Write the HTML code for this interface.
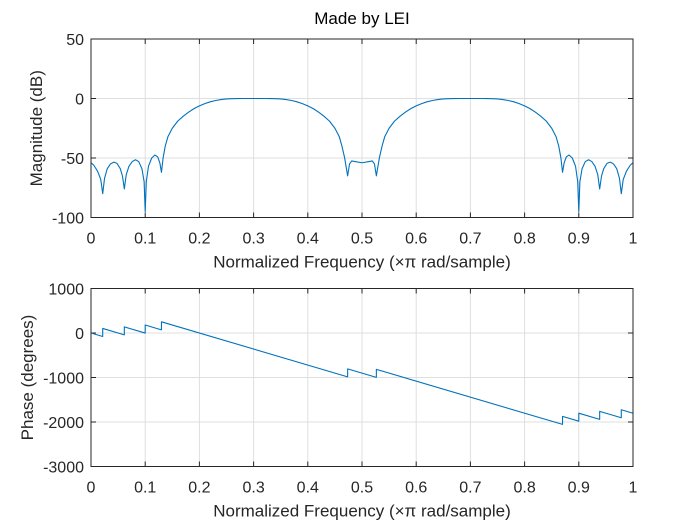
<!DOCTYPE html>
<html><head><meta charset="utf-8"><style>
html,body{margin:0;padding:0;background:#fff}
svg{display:block;font-family:"Liberation Sans",Arial,sans-serif}
</style></head><body>
<svg id="chart" width="700" height="525" viewBox="0 0 700 525"></svg>
<script>
// ---- data ----
const xTicks = [0,0.1,0.2,0.3,0.4,0.5,0.6,0.7,0.8,0.9,1];
const xTickLabels = ["0","0.1","0.2","0.3","0.4","0.5","0.6","0.7","0.8","0.9","1"];
const magTicks = [50,0,-50,-100];
const magTickLabels = ["50","0","-50","-100"];
const phaseTicks = [1000,0,-1000,-2000,-3000];
const phaseTickLabels = ["1000","0","-1000","-2000","-3000"];
const magFreq = [0,0.005,0.012,0.018,0.0216,0.025,0.03,0.036,0.042,0.048,0.054,0.058,0.0615,0.065,0.07,0.076,0.082,0.088,0.094,0.098,0.1,0.102,0.106,0.112,0.118,0.123,0.127,0.13,0.133,0.137,0.142,0.15,0.16,0.17,0.18,0.19,0.2,0.21,0.22,0.23,0.24,0.25,0.26,0.27,0.28,0.32,0.33,0.34,0.35,0.36,0.37,0.38,0.39,0.4,0.41,0.42,0.43,0.44,0.45,0.458,0.463,0.468,0.4735,0.477,0.481,0.487,0.5,0.513,0.519,0.523,0.5265,0.532,0.537,0.542,0.55,0.56,0.57,0.58,0.59,0.6,0.61,0.62,0.63,0.64,0.65,0.66,0.67,0.68,0.72,0.73,0.74,0.75,0.76,0.77,0.78,0.79,0.8,0.81,0.82,0.83,0.84,0.85,0.858,0.863,0.867,0.87,0.873,0.877,0.882,0.888,0.894,0.898,0.9,0.902,0.906,0.912,0.918,0.924,0.93,0.935,0.9385,0.942,0.946,0.952,0.958,0.964,0.97,0.975,0.9784,0.982,0.988,0.995,1];
const magDb = [-54,-56,-61,-68,-80,-67,-59,-55,-53.5,-54.5,-59,-65,-76,-64,-57,-53,-51.5,-53,-59,-70,-95,-70,-57,-50,-47.5,-49,-54,-62,-50,-40,-32,-25,-19,-15,-11.5,-8.5,-6.2,-4.3,-2.8,-1.7,-0.9,-0.4,-0.15,-0.05,0,0,-0.05,-0.15,-0.4,-0.9,-1.7,-2.8,-4.3,-6.2,-8.5,-11.5,-15,-19,-25,-32,-40,-50,-65,-55,-52.5,-53,-54,-53,-52.5,-55,-65,-50,-40,-32,-25,-19,-15,-11.5,-8.5,-6.2,-4.3,-2.8,-1.7,-0.9,-0.4,-0.15,-0.05,0,0,-0.05,-0.15,-0.4,-0.9,-1.7,-2.8,-4.3,-6.2,-8.5,-11.5,-15,-19,-25,-32,-40,-50,-62,-54,-49,-47.5,-50,-57,-70,-95,-70,-59,-53,-51.5,-53,-57,-64,-76,-65,-59,-54.5,-53.5,-55,-59,-67,-80,-68,-61,-56,-54];
const phaseFreq = [0,0.0216,0.0216,0.0615,0.0615,0.1,0.1,0.13,0.13,0.4735,0.4735,0.5265,0.5265,0.87,0.87,0.9,0.9,0.9385,0.9385,0.9784,0.9784,1];
const phaseDeg = [0,-78,102,-42,138,-1,179,71,251,-986,-806,-997,-817,-2054,-1874,-1982,-1802,-1941,-1761,-1905,-1725,-1803];

// ---- layout ----
const NS="http://www.w3.org/2000/svg";
const svg=document.getElementById('chart');
const L=91,R=633;
const top1={y0:39,y1:217.5,min:-100,max:50};
const top2={y0:288.5,y1:466.5,min:-3000,max:1000};
function sx(f){return L+(R-L)*f;}
function syF(ax){return v=>ax.y1-(v-ax.min)/(ax.max-ax.min)*(ax.y1-ax.y0);}
function mk(tag,attrs,parent){const e=document.createElementNS(NS,tag);for(const k in attrs)e.setAttribute(k,attrs[k]);(parent||svg).appendChild(e);return e;}

function drawAxes(ax,yTicks,yLabels,ylabel,name,xs,ys){
  const sy=syF(ax);
  const g=mk('g',{});
  
  
  mk('rect',{x:L,y:ax.y0,width:R-L,height:ax.y1-ax.y0,fill:'#fff'},g);
  xTicks.forEach((t,i)=>{
    const x=sx(t);
    const gl=mk('line',{x1:x,x2:x,y1:ax.y0,y2:ax.y1,stroke:'#dfdfdf','stroke-width':1},g);
    
    
    mk('line',{x1:x,x2:x,y1:ax.y1,y2:ax.y1-5,stroke:'#262626'},g);
    mk('line',{x1:x,x2:x,y1:ax.y0,y2:ax.y0+5,stroke:'#262626'},g);
    const tx=mk('text',{x:x,y:ax.y1+26,'text-anchor':'middle','font-size':16,fill:'#262626'},g);
    tx.textContent=xTickLabels[i];
    
    
  });
  yTicks.forEach((t,i)=>{
    const y=sy(t);
    const gl=mk('line',{x1:L,x2:R,y1:y,y2:y,stroke:'#dfdfdf','stroke-width':1},g);
    
    
    mk('line',{x1:L,x2:L+5,y1:y,y2:y,stroke:'#262626'},g);
    mk('line',{x1:R,x2:R-5,y1:y,y2:y,stroke:'#262626'},g);
    const tx=mk('text',{x:L-7,y:y+6,'text-anchor':'end','font-size':16,fill:'#262626'},g);
    tx.textContent=yLabels[i];
    
    
  });
  let d='';
  for(let i=0;i<xs.length;i++){d+=(i?'L':'M')+sx(xs[i]).toFixed(2)+','+sy(ys[i]).toFixed(2);}
  const p=mk('path',{d:d,fill:'none',stroke:'#0072BD','stroke-width':1.1,'stroke-linejoin':'round'},g);
  
  
  mk('rect',{x:L,y:ax.y0,width:R-L,height:ax.y1-ax.y0,fill:'none',stroke:'#262626','stroke-width':1},g);
  const xl=mk('text',{x:362,y:ax.y1+50,'text-anchor':'middle','font-size':17,fill:'#262626','xml:space':'preserve'},g);
  xl.textContent='Normalized Frequency  (\u00d7\u03c0 rad/sample)';
  
  
  const cy=(ax.y0+ax.y1)/2;
  const lx=name==='magnitude'?42:33;
  const yl=mk('text',{x:lx,y:cy,'text-anchor':'middle','font-size':17,fill:'#262626',transform:'rotate(-90 '+lx+' '+cy+')'},g);
  yl.textContent=ylabel;
  
  
}
drawAxes(top1,magTicks,magTickLabels,'Magnitude (dB)','magnitude',magFreq,magDb);
drawAxes(top2,phaseTicks,phaseTickLabels,'Phase (degrees)','phase',phaseFreq,phaseDeg);
const t=mk('text',{x:362,y:24,'text-anchor':'middle','font-size':17,fill:'#000'});
t.textContent='Made by LEI';


</script>
</body></html>
